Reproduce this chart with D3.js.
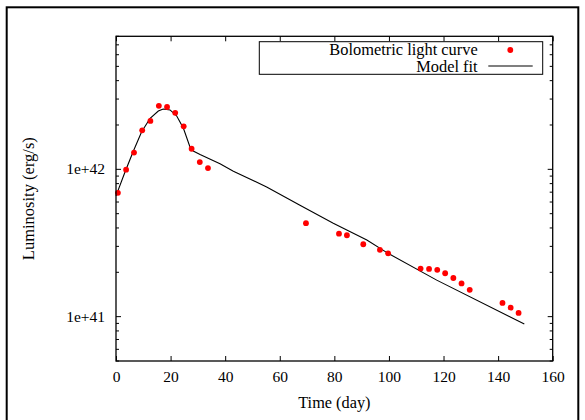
<!DOCTYPE html>
<html>
<head>
<meta charset="utf-8">
<script src="https://cdn.jsdelivr.net/npm/d3@7/dist/d3.min.js"></script>
<style>
  body { margin: 0; background: #fff; }
  text { font-family: "Liberation Serif", "Times New Roman", serif; fill: #000; }
</style>
</head>
<body>
<div id="chart"></div>
<script>
// bolometric light curve (day, erg/s)
var obsDays = [0.7, 3.7, 6.6, 9.6, 12.6, 15.7, 18.7, 21.7, 24.8, 27.7, 30.7, 33.7,
    69.6, 81.7, 84.6, 90.6, 96.7, 99.7, 111.6, 114.7, 117.7, 120.6, 123.6, 126.6, 129.6,
    141.6, 144.6, 147.5];
var obsLum = [6.93e41, 9.94e41, 1.30e42, 1.84e42, 2.13e42, 2.70e42, 2.65e42, 2.42e42, 1.96e42, 1.38e42, 1.12e42, 1.02e42,
    4.31e41, 3.66e41, 3.57e41, 3.10e41, 2.84e41, 2.69e41, 2.12e41, 2.11e41, 2.08e41, 1.97e41, 1.83e41, 1.68e41, 1.52e41,
    1.24e41, 1.15e41, 1.06e41];

// model fit
var fitDays = [0, 3.3, 6.3, 9.4, 12.5, 15.5, 17.3, 19.8, 22.2, 24.7, 27.1, 28.3, 30.8, 38.1, 43.0, 55.2, 67.4, 79.6, 91.9, 99.7, 117.5, 149.6];
var fitLum = [6.6e41, 9.6e41, 1.32e42, 1.80e42, 2.22e42, 2.49e42, 2.57e42, 2.53e42, 2.31e42, 1.90e42, 1.42e42, 1.33e42,
    1.26e42, 1.09e42, 9.7e41, 7.6e41, 5.7e41, 4.31e41, 3.31e41, 2.69e41, 1.77e41, 8.9e40];

var xTicks = [0, 20, 40, 60, 80, 100, 120, 140, 160];
var yMajor = [1e41, 1e42];
var legendLabels = ["Bolometric light curve", "Model fit"];

var width = 585
var height = 420

var svg = d3.select("#chart").append("svg")
    .attr("width", width)
    .attr("height", height)

// outer frame
svg.append("rect")
    .attr("x", 6.7).attr("y", 7.3)
    .attr("width", 571.6).attr("height", 440)
    .attr("fill", "none")
    .attr("stroke", "#000")
    .attr("stroke-width", 2);

var plotL = 116, plotR = 552.7, plotT = 36.3, plotB = 361;

var x = d3.scaleLinear().domain([0, 160]).range([plotL, plotR]);
var y = d3.scaleLog().domain([5e40, 8e42]).range([plotB, plotT]);

var fmt = function (d) {
    return "1e+" + Math.round(Math.log10(d));
};

// ticks, all pointing inward
var xBottom = d3.axisBottom(x).tickValues(xTicks).tickSizeInner(-5).tickSizeOuter(0).tickPadding(10);
var xTop = d3.axisTop(x).tickValues(xTicks).tickSizeInner(-5).tickSizeOuter(0).tickFormat("");

var yMinor = y.ticks().filter(function (d) {
    return yMajor.indexOf(d) < 0;
});

function yTickLayer(g, side) {
    var x0 = side === "left" ? plotL : plotR;
    var dir = side === "left" ? 1 : -1;
    g.selectAll("line.major")
        .data(yMajor)
        .enter().append("line")
        .attr("class", "major")
        .attr("x1", x0).attr("x2", x0 + dir * 5)
        .attr("y1", function (d) { return y(d); })
        .attr("y2", function (d) { return y(d); })
        .attr("stroke", "#000");
    g.selectAll("line.minor")
        .data(yMinor)
        .enter().append("line")
        .attr("class", "minor")
        .attr("x1", x0).attr("x2", x0 + dir * 3)
        .attr("y1", function (d) { return y(d); })
        .attr("y2", function (d) { return y(d); })
        .attr("stroke", "#000");
}

var gx = svg.append("g")
    .attr("transform", "translate(0," + plotB + ")")
    .call(xBottom);
gx.select(".domain").remove();
gx.selectAll("text")
    .attr("font-size", "15.5px")
    .attr("font-family", "Liberation Serif");

var gxt = svg.append("g")
    .attr("transform", "translate(0," + plotT + ")")
    .call(xTop);
gxt.select(".domain").remove();

svg.append("g").call(yTickLayer, "left");
svg.append("g").call(yTickLayer, "right");

svg.append("g")
    .selectAll("text")
    .data(yMajor)
    .enter().append("text")
    .attr("x", plotL - 11)
    .attr("y", function (d) { return y(d); })
    .attr("dy", "0.33em")
    .attr("text-anchor", "end")
    .attr("font-size", "15.5px")
    .text(fmt);

// model curve
var line = d3.line()
    .x(function (d) { return x(d[0]); })
    .y(function (d) { return y(d[1]); });

svg.append("path")
    .datum(d3.zip(fitDays, fitLum))
    .attr("d", line)
    .attr("fill", "none")
    .attr("stroke", "#000")
    .attr("stroke-width", 1.1);

// observed points
svg.append("g")
    .selectAll("circle")
    .data(d3.zip(obsDays, obsLum))
    .enter().append("circle")
    .attr("cx", function (d) { return x(d[0]); })
    .attr("cy", function (d) { return y(d[1]); })
    .attr("r", 2.9)
    .attr("fill", "#ff0000");

// plot border
svg.append("rect")
    .attr("x", plotL).attr("y", plotT)
    .attr("width", plotR - plotL).attr("height", plotB - plotT)
    .attr("fill", "none")
    .attr("stroke", "#000")
    .attr("stroke-width", 1.3);

// axis titles
svg.append("text")
    .attr("x", (plotL + plotR) / 2)
    .attr("y", 407.7)
    .attr("text-anchor", "middle")
    .attr("font-size", "16.3px")
    .text("Time (day)");

svg.append("text")
    .attr("transform", "translate(34," + (plotT + plotB) / 2 + ") rotate(-90)")
    .attr("text-anchor", "middle")
    .attr("font-size", "16.5px")
    .text("Luminosity (erg/s)");

// legend
var legend = svg.append("g");
legend.append("rect")
    .attr("x", 259.3).attr("y", 41.7)
    .attr("width", 283.4).attr("height", 32.6)
    .attr("fill", "#fff")
    .attr("stroke", "#000")
    .attr("stroke-width", 1);

legend.selectAll("text")
    .data(legendLabels)
    .enter().append("text")
    .attr("x", 477.7)
    .attr("y", function (d, i) { return 55 + i * 16.7; })
    .attr("text-anchor", "end")
    .attr("font-size", "16.4px")
    .text(function (d) { return d; });

legend.append("circle")
    .attr("cx", 510.3).attr("cy", 50)
    .attr("r", 2.9)
    .attr("fill", "#ff0000");

legend.append("line")
    .attr("x1", 488.3).attr("x2", 532.7)
    .attr("y1", 66).attr("y2", 66)
    .attr("stroke", "#000")
    .attr("stroke-width", 1.1);
</script>
</body>
</html>
